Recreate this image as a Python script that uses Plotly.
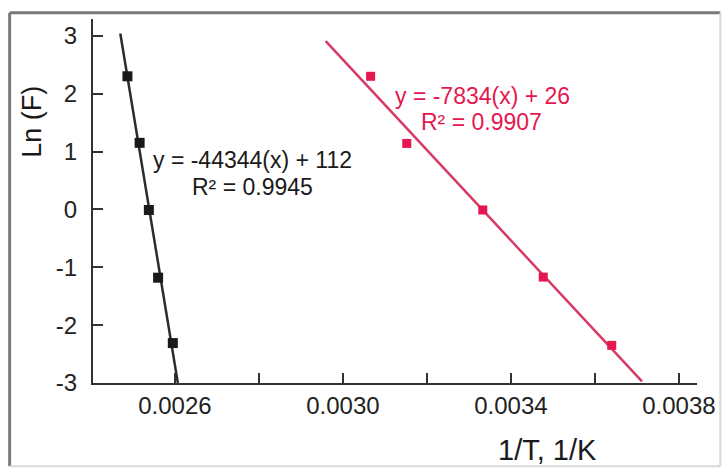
import numpy as np
import plotly.graph_objects as go

# ---- data ----
black_x = [0.002487, 0.002516, 0.002538, 0.002560, 0.002595]
black_y = [2.30, 1.15, -0.01, -1.18, -2.31]
red_x = [0.003066, 0.003152, 0.003333, 0.003477, 0.003640]
red_y = [2.30, 1.14, -0.01, -1.17, -2.35]

black_fit_range = [0.00247, 0.002607]
red_fit_range = [0.002959, 0.003712]

black_eq = ["y = -44344(x) + 112", "R² = 0.9945"]
red_eq = ["y = -7834(x) + 26", "R² = 0.9907"]

x_tickvals = [0.0026, 0.0028, 0.0030, 0.0032, 0.0034, 0.0036, 0.0038]
x_ticktext = ["0.0026", "", "0.0030", "", "0.0034", "", "0.0038"]
y_tickvals = [-3, -2, -1, 0, 1, 2, 3]
y_ticktext = ["-3", "-2", "-1", "0", "1", "2", "3"]

x_title = "1/T, 1/K"
y_title = "Ln (F)"

BLACK_LINE = "#2b2b2b"
BLACK_MARK = "#1a1a1a"
RED_LINE = "#d63a65"
RED_MARK = "#e5174f"
FONT = "Liberation Sans, Arial, sans-serif"

fig = go.Figure()

for xs, ys, rng, lc, mc, msize in [
    (black_x, black_y, black_fit_range, BLACK_LINE, BLACK_MARK, 10),
    (red_x, red_y, red_fit_range, RED_LINE, RED_MARK, 9),
]:
    m, b = np.polyfit(xs, ys, 1)
    fx = np.array(rng)
    fig.add_trace(go.Scatter(x=fx, y=m * fx + b, mode="lines",
                             line=dict(color=lc, width=2.5), showlegend=False,
                             hoverinfo="skip"))
    fig.add_trace(go.Scatter(x=xs, y=ys, mode="markers",
                             marker=dict(symbol="square", size=msize, color=mc),
                             showlegend=False))

axis_common = dict(showgrid=False, zeroline=False, showline=True,
                   linecolor="#333333", linewidth=2, ticks="inside",
                   ticklen=10, tickwidth=1.5, tickcolor="#333333",
                   tickfont=dict(family=FONT, size=24, color="#222222"))

fig.update_xaxes(range=[0.002405, 0.003843], tickmode="array",
                 tickvals=x_tickvals, ticktext=x_ticktext, **axis_common)
fig.update_yaxes(range=[-3, 3.29], tickmode="array", tickvals=y_tickvals,
                 ticktext=y_ticktext, ticklabelstandoff=9, **axis_common)

ann = []
def txt(s, x, y, color, size=23, angle=0):
    ann.append(dict(text=s, x=x, y=y, xref="paper", yref="paper",
                    showarrow=False, textangle=angle,
                    font=dict(family=FONT, size=size, color=color),
                    xanchor="center", yanchor="middle"))

txt(black_eq[0], 0.2647, 0.6123, "#1a1a1a")
txt(black_eq[1], 0.2638, 0.5389, "#1a1a1a")
txt(red_eq[0], 0.6442, 0.7883, RED_MARK)
txt(red_eq[1], 0.6437, 0.7182, RED_MARK)
txt(x_title, 0.7519, -0.185, "#1a1a1a", size=29)
txt(y_title, -0.1016, 0.7168, "#1a1a1a", size=27, angle=-90)

# outer frame
shapes = [
    dict(type="line", xref="paper", yref="paper", x0=-0.138, x1=1.0386,
         y0=1.0173, y1=1.0173, line=dict(color="#7a7a7a", width=3)),
    dict(type="line", xref="paper", yref="paper", x0=-0.138, x1=-0.138,
         y0=-0.229, y1=1.0173, line=dict(color="#7a7a7a", width=3)),
    dict(type="line", xref="paper", yref="paper", x0=1.0386, x1=1.0386,
         y0=-0.229, y1=1.0173, line=dict(color="#d8d8d8", width=2)),
    dict(type="line", xref="paper", yref="paper", x0=-0.138, x1=1.0386,
         y0=-0.229, y1=-0.229, line=dict(color="#d8d8d8", width=2)),
]

fig.update_layout(width=727, height=471,
                  margin=dict(l=93, r=30, t=19, b=88, autoexpand=False),
                  paper_bgcolor="white", plot_bgcolor="white",
                  annotations=ann, shapes=shapes, showlegend=False)

fig.write_html("out.html", config={"displayModeBar": False},
               post_script="document.body.style.margin='0px';"
                           "document.body.style.overflow='hidden';")
